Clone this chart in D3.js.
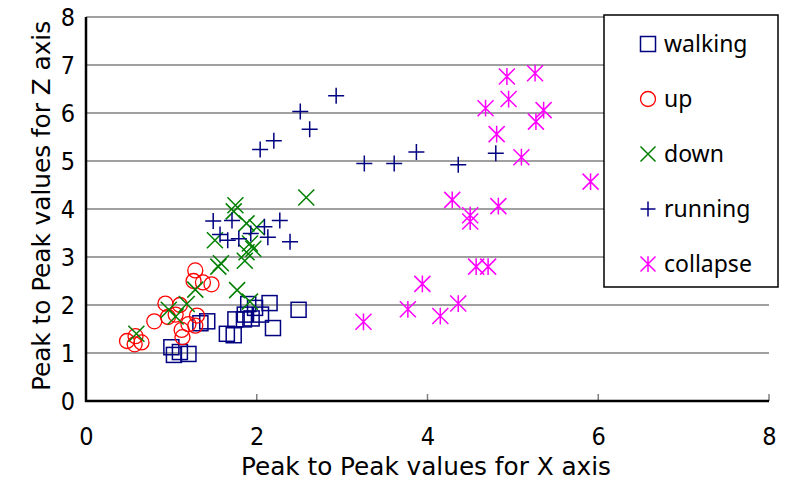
<!DOCTYPE html>
<html lang="en">
<head>
    <meta charset="UTF-8">
    <title>Peak to Peak scatter</title>
    <script src="https://d3js.org/d3.v7.min.js"></script>
    <style>
        body { margin: 0; background: #fff; }
        svg { display: block; }
        .tick-label { font-family: 'DejaVu Sans Condensed', 'Liberation Sans Narrow', Arial, sans-serif; font-size: 25px; fill: #000; }
        .axis-title { font-family: 'DejaVu Sans Condensed', 'Liberation Sans Narrow', Arial, sans-serif; font-size: 25px; fill: #000; }
        .legend-text { font-family: 'Noto Sans', 'DejaVu Sans', sans-serif; font-size: 23px; fill: #000; }
    </style>
</head>
<body>
<svg width="794" height="481"></svg>
<script>
    // values: [x, z]
    const walking = [[1.00,1.12],[1.03,0.96],[1.10,1.02],[1.20,0.98],[1.34,1.62],[1.42,1.66],
        [1.65,1.40],[1.73,1.37],[1.75,1.70],[1.86,1.80],[1.90,2.02],[1.98,1.94],[1.94,1.72],
        [2.05,1.80],[2.15,2.04],[2.19,1.52],[2.49,1.90],[1.85,1.70]];
    const up = [[0.48,1.25],[0.57,1.18],[0.65,1.22],[0.80,1.66],[0.93,2.03],[0.96,1.75],
        [1.05,1.80],[1.10,2.00],[1.12,1.48],[1.13,1.33],[1.20,1.60],[1.30,1.78],[1.28,1.57],
        [1.28,2.72],[1.26,2.50],[1.37,2.47],[1.47,2.43],[0.58,1.35]];
    const down = [[0.59,1.40],[0.97,1.90],[1.05,1.76],[1.18,2.02],[1.28,2.32],[1.55,2.80],
        [1.58,2.87],[1.77,2.31],[1.92,2.07],[1.86,2.92],[1.51,3.35],[1.88,3.10],[1.96,3.17],
        [1.92,3.28],[2.00,3.62],[1.88,3.70],[1.73,3.95],[1.75,4.08],[2.58,4.24]];
    const running = [[1.49,3.75],[1.71,3.76],[2.09,3.63],[2.27,3.76],[1.57,3.47],[1.66,3.35],
        [1.79,3.38],[1.93,3.49],[2.13,3.41],[2.39,3.32],[2.04,5.24],[2.20,5.42],[2.51,6.03],
        [2.62,5.66],[2.93,6.36],[3.26,4.95],[3.61,4.95],[3.87,5.19],[4.36,4.92],[4.80,5.16]];
    const collapse = [[3.25,1.65],[3.77,1.91],[3.94,2.44],[4.15,1.77],[4.36,2.03],[4.57,2.80],
        [4.71,2.80],[4.29,4.19],[4.50,3.87],[4.50,3.74],[4.83,4.06],[4.81,5.56],[5.10,5.08],
        [4.68,6.10],[4.95,6.29],[4.93,6.76],[5.26,6.83],[5.36,6.06],[5.27,5.82],[5.91,4.57]];

    const seriesNames = ["walking", "up", "down", "running", "collapse"];
    const xTicks = [0, 2, 4, 6, 8];
    const yTicks = [0, 1, 2, 3, 4, 5, 6, 7, 8];

    const series = [
        { name: "walking", data: walking, color: "#000080", shape: "square" },
        { name: "up", data: up, color: "#ff0000", shape: "circle" },
        { name: "down", data: down, color: "#008000", shape: "cross" },
        { name: "running", data: running, color: "#000080", shape: "plus" },
        { name: "collapse", data: collapse, color: "#ff00ff", shape: "star" }
    ];

    const svg = d3.select("svg");
    const x = d3.scaleLinear().domain([0, 8]).range([86, 769]);
    const y = d3.scaleLinear().domain([0, 8]).range([401, 17]);

    // gridlines
    svg.append("g").selectAll("line")
        .data(yTicks.filter(d => d > 0))
        .enter().append("line")
        .attr("x1", x(0)).attr("x2", x(8))
        .attr("y1", d => y(d)).attr("y2", d => y(d))
        .attr("stroke", "#808080").attr("stroke-width", 1.5);

    // small inner ticks on x axis
    svg.append("g").selectAll("line")
        .data(xTicks.filter(d => d > 0))
        .enter().append("line")
        .attr("x1", d => x(d)).attr("x2", d => x(d))
        .attr("y1", y(0)).attr("y2", y(0) - 7)
        .attr("stroke", "#808080").attr("stroke-width", 1.5);

    // axes lines
    svg.append("line").attr("x1", x(0)).attr("x2", x(0)).attr("y1", y(8)).attr("y2", y(0) + 1)
        .attr("stroke", "#000").attr("stroke-width", 2.5);
    svg.append("line").attr("x1", x(0) - 1).attr("x2", x(8)).attr("y1", y(0)).attr("y2", y(0))
        .attr("stroke", "#000").attr("stroke-width", 2.5);

    // tick labels via d3 axes
    const xAxis = svg.append("g").attr("transform", `translate(0,${y(0)})`)
        .call(d3.axisBottom(x).tickValues(xTicks).tickSize(0).tickPadding(26).tickFormat(d3.format("d")));
    const yAxis = svg.append("g").attr("transform", `translate(${x(0)},0)`)
        .call(d3.axisLeft(y).tickValues(yTicks).tickSize(0).tickPadding(11).tickFormat(d3.format("d")));
    [xAxis, yAxis].forEach(a => {
        a.attr("font-size", null).attr("font-family", null);
        a.select(".domain").remove();
        a.selectAll("text").attr("class", "tick-label");
    });

    // axis titles
    svg.append("text").attr("class", "axis-title")
        .attr("x", 426).attr("y", 475).attr("text-anchor", "middle")
        .attr("textLength", 370).attr("lengthAdjust", "spacingAndGlyphs")
        .text("Peak to Peak values for X axis");
    svg.append("text").attr("class", "axis-title")
        .attr("transform", "translate(50,206) rotate(-90)").attr("text-anchor", "middle")
        .attr("textLength", 370).attr("lengthAdjust", "spacingAndGlyphs")
        .text("Peak to Peak values for Z axis");

    function drawMarker(g, shape, color, s) {
        if (shape === "square") {
            g.append("rect").attr("x", -s).attr("y", -s).attr("width", 2 * s).attr("height", 2 * s)
                .attr("fill", "none").attr("stroke", color).attr("stroke-width", 1.5);
        } else if (shape === "circle") {
            g.append("circle").attr("r", s).attr("fill", "none").attr("stroke", color).attr("stroke-width", 1.3);
        } else {
            let path = "";
            if (shape === "cross" || shape === "star") path += `M${-s},${-s}L${s},${s}M${-s},${s}L${s},${-s}`;
            if (shape === "plus") path += `M${-s},0L${s},0M0,${-s}L0,${s}`;
            if (shape === "star") path += `M0,${-s * 1.05}L0,${s * 1.05}`;
            g.append("path").attr("d", path).attr("fill", "none").attr("stroke", color).attr("stroke-width", 1.5);
        }
    }

    const size = { square: 7.5, circle: 7.5, cross: 8, plus: 8, star: 8 };

    series.forEach(sr => {
        const g = svg.append("g");
        sr.data.forEach(d => {
            const m = g.append("g").attr("transform", `translate(${x(d[0])},${y(d[1])})`);
            drawMarker(m, sr.shape, sr.color, size[sr.shape]);
        });
    });

    // legend
    const legend = svg.append("g");
    legend.append("rect").attr("x", 604).attr("y", 15).attr("width", 174).attr("height", 272)
        .attr("fill", "#fff").attr("stroke", "#000").attr("stroke-width", 1.5);
    series.forEach((sr, i) => {
        const ly = 44 + i * 55;
        const m = legend.append("g").attr("transform", `translate(648,${ly})`);
        drawMarker(m, sr.shape, sr.color, 7.5);
        legend.append("text").attr("class", "legend-text")
            .attr("x", 664).attr("y", ly + 8).text(seriesNames[i]);
    });
</script>
</body>
</html>
